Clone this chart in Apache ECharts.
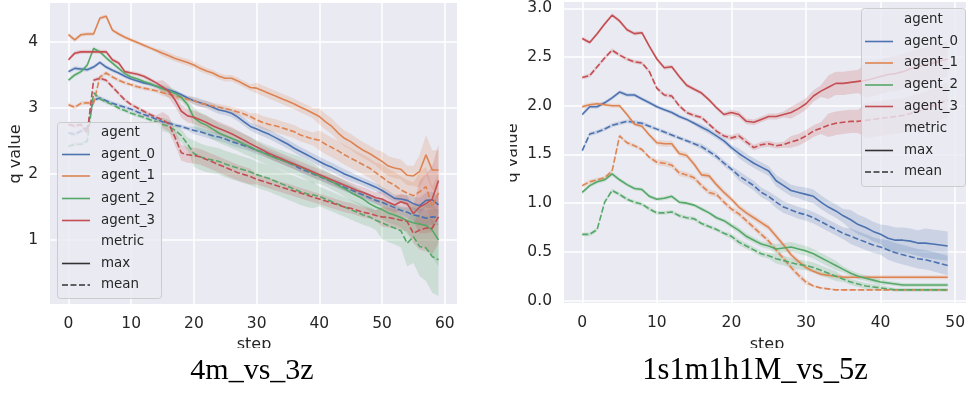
<!DOCTYPE html>
<html><head><meta charset="utf-8">
<script src="https://cdn.jsdelivr.net/npm/echarts@6/dist/echarts.min.js"></script>
<style>html,body{margin:0;padding:0;background:#fff;}#c{width:968px;height:394px;}</style>
</head><body><div id="c"></div>
<script>
// ---------- data ----------
const steps1 = [0,1,2,3,4,5,6,7,8,9,10,11,12,13,14,15,16,17,18,19,20,21,22,23,24,25,26,27,28,29,30,31,32,33,34,35,36,37,38,39,40,41,42,43,44,45,46,47,48,49,50,51,52,53,54,55,56,57,58,59];
const steps2 = [0,1,2,3,4,5,6,7,8,9,10,11,12,13,14,15,16,17,18,19,20,21,22,23,24,25,26,27,28,29,30,31,32,33,34,35,36,37,38,39,40,41,42,43,44,45,46,47,48,49];
const agentNames = ['agent_0','agent_1','agent_2','agent_3'];
const metricNames = ['max','mean'];
const captions = ['4m_vs_3z','1s1m1h1M_vs_5z'];
const xTicks1 = [0,10,20,30,40,50,60];
const yTicks1 = [1,2,3,4];
const xTicks2 = [0,10,20,30,40,50];
const yTicks2 = [0.0,0.5,1.0,1.5,2.0,2.5,3.0];

// plot 1 (4m_vs_3z)
const p1_a0_max = [3.55,3.60,3.59,3.58,3.62,3.69,3.62,3.57,3.53,3.48,3.44,3.41,3.38,3.36,3.33,3.30,3.27,3.24,3.20,3.15,3.11,3.08,3.05,3.01,2.97,2.95,2.92,2.86,2.79,2.72,2.68,2.64,2.60,2.55,2.50,2.45,2.39,2.34,2.29,2.24,2.19,2.14,2.10,2.05,2.00,1.96,1.92,1.88,1.84,1.80,1.75,1.69,1.63,1.62,1.60,1.55,1.52,1.60,1.61,1.53];
const p1_a0_mean = [2.62,2.60,2.65,2.70,3.12,3.15,3.11,3.07,3.04,3.01,2.98,2.94,2.90,2.87,2.83,2.79,2.77,2.74,2.72,2.69,2.66,2.64,2.61,2.58,2.56,2.53,2.49,2.46,2.43,2.40,2.36,2.33,2.29,2.25,2.21,2.17,2.13,2.08,2.04,2.00,1.96,1.92,1.88,1.84,1.80,1.76,1.72,1.68,1.64,1.60,1.57,1.53,1.49,1.45,1.42,1.38,1.36,1.33,1.35,1.34];
const p1_a1_max = [4.11,4.03,4.11,4.12,4.12,4.36,4.39,4.18,4.12,4.07,4.03,3.99,3.95,3.91,3.87,3.83,3.79,3.75,3.72,3.69,3.65,3.60,3.56,3.53,3.48,3.45,3.45,3.41,3.36,3.31,3.30,3.26,3.22,3.18,3.14,3.10,3.06,3.01,2.97,2.92,2.87,2.79,2.72,2.62,2.54,2.49,2.42,2.36,2.31,2.25,2.19,2.12,2.09,2.07,1.98,1.97,2.04,2.29,2.06,2.06];
const p1_a1_mean = [3.05,3.01,3.07,3.08,3.07,3.47,3.53,3.47,3.42,3.38,3.35,3.32,3.30,3.28,3.26,3.23,3.21,3.18,3.16,3.13,3.11,3.07,3.05,3.03,3.01,2.99,2.97,2.94,2.91,2.87,2.82,2.78,2.75,2.73,2.70,2.67,2.64,2.59,2.56,2.53,2.51,2.45,2.40,2.35,2.29,2.24,2.19,2.14,2.09,2.02,1.95,1.88,1.83,1.76,1.71,1.67,1.73,1.81,1.51,1.71];
const p1_a2_max = [3.42,3.50,3.55,3.65,3.90,3.85,3.76,3.68,3.60,3.52,3.47,3.44,3.40,3.37,3.33,3.29,3.26,3.22,3.16,3.05,2.85,2.78,2.74,2.68,2.62,2.58,2.54,2.50,2.45,2.41,2.36,2.32,2.28,2.24,2.21,2.17,2.14,2.11,2.06,2.01,1.97,1.93,1.88,1.83,1.78,1.72,1.67,1.62,1.55,1.50,1.46,1.41,1.38,1.34,1.29,1.26,1.24,1.22,1.15,1.00];
const p1_a2_mean = [2.42,2.45,2.45,2.50,3.23,3.14,3.09,3.05,3.00,2.96,2.92,2.89,2.86,2.82,2.79,2.75,2.72,2.66,2.58,2.45,2.31,2.26,2.23,2.21,2.19,2.15,2.12,2.09,2.06,2.03,1.99,1.96,1.93,1.89,1.85,1.81,1.77,1.73,1.70,1.68,1.66,1.62,1.58,1.54,1.50,1.46,1.42,1.38,1.35,1.30,1.26,1.22,1.18,1.14,0.95,1.05,0.90,0.88,0.75,0.70];
const p1_a3_max = [3.73,3.83,3.85,3.85,3.85,3.85,3.85,3.73,3.68,3.55,3.53,3.51,3.48,3.43,3.38,3.32,3.25,3.12,2.95,2.88,2.86,2.82,2.78,2.73,2.69,2.65,2.61,2.56,2.51,2.46,2.41,2.36,2.31,2.27,2.23,2.19,2.15,2.11,2.07,2.03,1.99,1.95,1.91,1.87,1.83,1.79,1.75,1.72,1.68,1.64,1.62,1.57,1.53,1.58,1.55,1.40,1.50,1.55,1.62,1.90];
const p1_a3_mean = [2.75,2.73,2.75,2.62,3.42,3.45,3.42,3.32,3.22,3.12,3.05,3.00,2.95,2.90,2.86,2.82,2.76,2.55,2.32,2.29,2.28,2.26,2.22,2.18,2.14,2.10,2.06,2.02,1.99,1.96,1.92,1.89,1.86,1.83,1.80,1.77,1.74,1.71,1.68,1.65,1.62,1.59,1.56,1.53,1.50,1.48,1.45,1.42,1.40,1.37,1.35,1.34,1.32,1.30,1.28,1.10,1.15,1.18,1.18,1.35];
// confidence half-widths, plot 1
const p1_a0_max_ci = [.03,.03,.03,.03,.03,.03,.03,.03,.03,.03,.03,.03,.03,.03,.03,.03,.03,.03,.03,.03,.06,.06,.06,.06,.06,.06,.06,.06,.06,.06,.07,.07,.07,.07,.07,.07,.07,.07,.07,.07,.07,.07,.07,.07,.07,.07,.06,.06,.06,.06,.06,.06,.06,.06,.08,.1,.12,.12,.12,.12];
const p1_a0_mean_ci = [.03,.03,.03,.03,.03,.03,.03,.03,.03,.03,.03,.03,.03,.03,.03,.03,.03,.03,.03,.03,.06,.06,.06,.06,.06,.06,.06,.06,.06,.06,.06,.06,.06,.06,.06,.06,.06,.06,.06,.06,.06,.06,.06,.06,.06,.06,.06,.06,.06,.06,.06,.06,.06,.06,.08,.1,.12,.12,.12,.12];
const p1_a1_max_ci = [.03,.03,.03,.03,.03,.03,.03,.03,.03,.03,.03,.03,.03,.03,.03,.05,.05,.05,.05,.05,.05,.05,.05,.05,.05,.05,.05,.05,.05,.05,.08,.08,.08,.08,.08,.08,.08,.08,.08,.08,.12,.12,.12,.12,.12,.12,.12,.12,.12,.12,.15,.15,.15,.15,.15,.15,.25,.3,.3,.3];
const p1_a1_mean_ci = [.03,.03,.03,.03,.03,.03,.03,.03,.03,.03,.03,.03,.03,.03,.03,.05,.05,.05,.05,.05,.05,.05,.05,.05,.05,.05,.05,.05,.05,.05,.1,.1,.1,.1,.1,.1,.1,.1,.1,.1,.15,.15,.15,.15,.15,.15,.15,.15,.15,.15,.2,.2,.2,.2,.2,.2,.3,.3,.3,.3];
const p1_a2_max_ci = [.03,.03,.03,.03,.03,.03,.03,.03,.03,.03,.03,.03,.03,.03,.03,.06,.06,.06,.06,.06,.15,.15,.15,.15,.15,.15,.15,.15,.15,.15,.15,.15,.15,.15,.15,.15,.15,.15,.15,.15,.12,.12,.12,.12,.12,.12,.12,.12,.12,.12,.15,.15,.15,.15,.2,.25,.3,.35,.4,.4];
const p1_a2_mean_ci = [.03,.03,.03,.03,.03,.03,.03,.03,.03,.03,.03,.03,.03,.03,.03,.1,.1,.1,.1,.1,.2,.2,.2,.2,.2,.2,.2,.2,.2,.2,.2,.2,.2,.2,.2,.2,.2,.2,.2,.2,.15,.15,.15,.15,.15,.15,.15,.15,.15,.15,.25,.25,.25,.25,.35,.4,.45,.5,.55,.55];
const p1_a3_max_ci = [.03,.03,.03,.03,.03,.03,.03,.03,.03,.03,.03,.03,.03,.03,.03,.1,.1,.1,.1,.1,.1,.1,.1,.1,.1,.1,.1,.1,.1,.1,.08,.08,.08,.08,.08,.08,.08,.08,.08,.08,.08,.08,.08,.08,.08,.08,.08,.08,.08,.08,.12,.12,.12,.12,.12,.12,.4,.45,.5,.55];
const p1_a3_mean_ci = [.03,.03,.03,.03,.03,.03,.03,.03,.03,.03,.03,.03,.03,.03,.03,.12,.12,.12,.12,.12,.12,.12,.12,.12,.12,.12,.12,.12,.12,.12,.08,.08,.08,.08,.08,.08,.08,.08,.08,.08,.08,.08,.08,.08,.08,.08,.08,.08,.08,.08,.15,.15,.15,.15,.15,.15,.3,.35,.4,.4];

// plot 2 (1s1m1h1M_vs_5z)
const p2_a0_max = [1.91,1.99,1.99,2.03,2.08,2.14,2.11,2.11,2.07,2.03,1.99,1.96,1.93,1.89,1.86,1.82,1.78,1.74,1.69,1.64,1.57,1.51,1.46,1.41,1.37,1.33,1.23,1.18,1.13,1.11,1.09,1.07,1.01,0.96,0.92,0.87,0.83,0.78,0.75,0.71,0.68,0.64,0.62,0.62,0.61,0.59,0.59,0.58,0.57,0.56];
const p2_a0_mean = [1.54,1.71,1.73,1.76,1.80,1.82,1.84,1.83,1.82,1.79,1.76,1.73,1.70,1.67,1.64,1.61,1.58,1.53,1.48,1.41,1.35,1.28,1.23,1.18,1.11,1.07,1.01,0.96,0.93,0.90,0.88,0.85,0.81,0.77,0.73,0.69,0.66,0.63,0.60,0.57,0.55,0.52,0.49,0.47,0.45,0.43,0.42,0.40,0.38,0.36];
const p2_a1_max = [1.99,2.01,2.02,2.01,2.00,2.00,1.91,1.81,1.79,1.70,1.62,1.61,1.61,1.51,1.49,1.40,1.29,1.28,1.19,1.11,1.04,0.96,0.90,0.85,0.80,0.75,0.66,0.57,0.47,0.40,0.34,0.30,0.27,0.26,0.25,0.24,0.24,0.24,0.24,0.24,0.24,0.24,0.24,0.24,0.24,0.24,0.24,0.24,0.24,0.24];
const p2_a1_mean = [1.18,1.22,1.24,1.26,1.33,1.69,1.62,1.59,1.55,1.47,1.42,1.41,1.39,1.31,1.29,1.26,1.18,1.11,1.09,1.01,0.94,0.89,0.82,0.75,0.68,0.61,0.52,0.43,0.34,0.26,0.19,0.15,0.13,0.12,0.11,0.11,0.11,0.11,0.11,0.11,0.11,0.11,0.11,0.11,0.11,0.11,0.11,0.11,0.11,0.11];
const p2_a2_max = [1.11,1.18,1.22,1.24,1.30,1.24,1.19,1.15,1.14,1.07,1.04,1.05,1.07,1.01,1.00,0.98,0.94,0.90,0.85,0.82,0.77,0.72,0.66,0.62,0.58,0.56,0.53,0.54,0.55,0.53,0.51,0.48,0.44,0.40,0.36,0.32,0.28,0.25,0.23,0.21,0.19,0.18,0.17,0.16,0.16,0.16,0.16,0.16,0.16,0.16];
const p2_a2_mean = [0.68,0.68,0.73,1.01,1.13,1.09,1.04,1.01,0.99,0.94,0.90,0.90,0.91,0.87,0.85,0.84,0.79,0.76,0.73,0.69,0.66,0.60,0.56,0.52,0.48,0.46,0.43,0.41,0.39,0.37,0.36,0.34,0.31,0.28,0.25,0.22,0.19,0.17,0.15,0.14,0.13,0.12,0.11,0.11,0.11,0.11,0.11,0.11,0.11,0.11];
const p2_a3_max = [2.69,2.65,2.74,2.84,2.93,2.87,2.78,2.74,2.75,2.61,2.48,2.39,2.40,2.30,2.21,2.17,2.13,2.06,1.98,1.91,1.93,1.91,1.84,1.83,1.86,1.89,1.89,1.91,1.93,1.97,2.02,2.10,2.15,2.19,2.23,2.23,2.24,2.25,2.26,2.28,2.30,2.32,2.33,2.35,2.38,2.40,2.42,2.44,2.46,2.48];
const p2_a3_mean = [2.29,2.31,2.40,2.49,2.57,2.52,2.48,2.45,2.44,2.35,2.18,2.11,2.10,2.00,1.93,1.90,1.88,1.81,1.74,1.69,1.67,1.69,1.63,1.57,1.60,1.61,1.59,1.60,1.63,1.65,1.69,1.74,1.77,1.80,1.82,1.83,1.84,1.84,1.85,1.86,1.87,1.88,1.89,1.90,1.92,1.94,1.97,2.00,2.03,2.06];
// confidence half-widths, plot 2
const p2_a0_max_ci = [.02,.02,.02,.02,.02,.02,.02,.02,.02,.02,.02,.02,.02,.02,.02,.02,.03,.03,.03,.03,.03,.05,.05,.05,.05,.05,.06,.06,.06,.06,.07,.07,.07,.07,.07,.07,.1,.1,.1,.1,.1,.13,.13,.13,.13,.13,.15,.15,.15,.15];
const p2_a0_mean_ci = [.02,.02,.02,.02,.02,.02,.02,.02,.02,.02,.02,.02,.02,.02,.02,.02,.03,.03,.03,.03,.03,.05,.05,.05,.05,.05,.06,.06,.06,.06,.06,.06,.06,.06,.06,.06,.08,.08,.08,.08,.08,.1,.1,.1,.1,.1,.1,.1,.1,.1];
const p2_a1_max_ci = [.02,.02,.02,.02,.02,.02,.02,.02,.02,.02,.03,.03,.03,.03,.03,.03,.03,.03,.03,.03,.03,.03,.03,.03,.03,.03,.03,.03,.03,.03,.03,.02,.02,.02,.02,.02,.02,.02,.02,.02,.02,.02,.02,.02,.02,.02,.02,.02,.02,.02];
const p2_a1_mean_ci = [.02,.02,.02,.02,.02,.02,.02,.02,.02,.02,.03,.03,.03,.03,.03,.03,.03,.03,.03,.03,.03,.03,.03,.03,.03,.03,.03,.03,.03,.03,.03,.01,.01,.01,.01,.01,.01,.01,.01,.01,.01,.01,.01,.01,.01,.01,.01,.01,.01,.01];
const p2_a2_max_ci = [.02,.02,.02,.02,.02,.02,.02,.02,.02,.02,.02,.02,.02,.02,.02,.02,.02,.02,.02,.02,.03,.03,.03,.03,.03,.03,.05,.05,.05,.05,.05,.05,.05,.05,.05,.03,.03,.03,.03,.03,.03,.02,.02,.02,.02,.02,.02,.02,.02,.02];
const p2_a2_mean_ci = [.02,.02,.02,.02,.02,.02,.02,.02,.02,.02,.02,.02,.02,.02,.02,.02,.02,.02,.02,.02,.03,.03,.03,.03,.03,.03,.05,.05,.05,.05,.05,.05,.05,.05,.05,.03,.03,.03,.03,.03,.03,.02,.02,.02,.02,.02,.02,.02,.02,.02];
const p2_a3_max_ci = [.02,.02,.02,.02,.02,.02,.02,.02,.02,.02,.02,.02,.02,.02,.02,.02,.02,.02,.02,.02,.03,.03,.03,.03,.03,.03,.03,.03,.06,.06,.06,.06,.06,.12,.12,.12,.12,.12,.18,.18,.18,.18,.18,.18,.18,.18,.18,.18,.18,.18];
const p2_a3_mean_ci = [.02,.02,.02,.02,.02,.02,.02,.02,.02,.02,.02,.02,.02,.02,.02,.02,.02,.02,.02,.02,.03,.03,.03,.03,.03,.03,.03,.03,.06,.06,.06,.06,.06,.12,.12,.12,.12,.12,.18,.18,.18,.18,.18,.18,.18,.18,.18,.18,.18,.18];

// ---------- chart ----------
const COLORS = ['#4C72B0','#DD8452','#55A868','#C44E52'];
const BAND_FILL = ['rgba(76,114,176,0.2)','rgba(221,132,82,0.2)','rgba(85,168,104,0.2)','rgba(196,78,82,0.2)'];
const DASH = [6, 2.5];
const FONT = 'DejaVu Sans';
const TXT = '#262626';

const plots = [
  {steps: steps1, xr: [-2.95, 61.95], yr: [0.03, 4.59], xt: xTicks1, yt: yTicks1, yfmt: v => String(v),
   lines: [[p1_a0_max,p1_a0_max_ci,p1_a0_mean,p1_a0_mean_ci],[p1_a1_max,p1_a1_max_ci,p1_a1_mean,p1_a1_mean_ci],
           [p1_a2_max,p1_a2_max_ci,p1_a2_mean,p1_a2_mean_ci],[p1_a3_max,p1_a3_max_ci,p1_a3_mean,p1_a3_mean_ci]]},
  {steps: steps2, xr: [-2.45, 51.45], yr: [-0.025, 3.065], xt: xTicks2, yt: yTicks2, yfmt: v => v.toFixed(1),
   lines: [[p2_a0_max,p2_a0_max_ci,p2_a0_mean,p2_a0_mean_ci],[p2_a1_max,p2_a1_max_ci,p2_a1_mean,p2_a1_mean_ci],
           [p2_a2_max,p2_a2_max_ci,p2_a2_mean,p2_a2_mean_ci],[p2_a3_max,p2_a3_max_ci,p2_a3_mean,p2_a3_mean_ci]]}
];
const gridBoxes = [{left: 50, top: 3, width: 407, height: 301}, {left: 564, top: 2, width: 406, height: 301}];

function inList(list, v) { return list.some(t => Math.abs(t - v) < 1e-6); }

const grids = [], xAxes = [], yAxes = [], series = [];
plots.forEach((p, pi) => {
  grids.push(Object.assign({show: true, backgroundColor: '#EAEAF2', borderWidth: 0, containLabel: false}, gridBoxes[pi]));
  xAxes.push({type: 'value', gridIndex: pi, min: p.xr[0], max: p.xr[1], splitNumber: 6,
    axisLine: {show: false}, axisTick: {show: false},
    axisLabel: {color: TXT, fontFamily: FONT, fontSize: 15.5, margin: 12, showMinLabel: false, showMaxLabel: false,
      formatter: v => inList(p.xt, v) ? String(Math.round(v)) : ''},
    splitLine: {show: true, showMinLine: false, showMaxLine: false, lineStyle: {color: '#ffffff', width: 1.5}}});
  yAxes.push({type: 'value', gridIndex: pi, min: p.yr[0], max: p.yr[1], splitNumber: 5,
    axisLine: {show: false}, axisTick: {show: false},
    axisLabel: {color: TXT, fontFamily: FONT, fontSize: 15.5, margin: 12, showMinLabel: false, showMaxLabel: false,
      formatter: v => inList(p.yt, v) ? p.yfmt(v) : ''},
    splitLine: {show: true, showMinLine: false, showMaxLine: false, lineStyle: {color: '#ffffff', width: 1.5}}});
  // confidence bands (custom polygons through the axis scales)
  p.lines.forEach((ln, ai) => {
    metricNames.forEach((m, mi) => {
      const vals = ln[mi * 2], ci = ln[mi * 2 + 1];
      const rows = p.steps.map((s, i) => [s, vals[i] - ci[i], vals[i] + ci[i]]);
      series.push({type: 'custom', xAxisIndex: pi, yAxisIndex: pi, silent: true, z: 1, clip: true,
        encode: {x: 0, y: [1, 2]}, data: rows,
        renderItem: (params, api) => {
          if (params.dataIndex !== 0) return null;
          const lower = rows.map(r => api.coord([r[0], r[1]]));
          const upper = rows.map(r => api.coord([r[0], r[2]])).reverse();
          return {type: 'polygon', shape: {points: lower.concat(upper)}, style: {fill: BAND_FILL[ai], stroke: null}};
        }});
    });
  });
  // lines
  p.lines.forEach((ln, ai) => {
    metricNames.forEach((m, mi) => {
      const vals = ln[mi * 2];
      series.push({type: 'line', name: agentNames[ai] + ' ' + m, xAxisIndex: pi, yAxisIndex: pi, symbol: 'none', z: 3,
        lineStyle: {color: COLORS[ai], width: 1.6, type: mi === 0 ? 'solid' : DASH},
        data: p.steps.map((s, i) => [s, vals[i]])});
    });
  });
});

// legend + texts via graphic
function legendGraphic(x0, y0, w, h, handleX, textX, rowY) {
  const els = [];
  els.push({type: 'rect', left: x0, top: y0, z: 100, shape: {width: w, height: h, r: 3},
    style: {fill: 'rgba(234,234,242,0.8)', stroke: '#cccccc', lineWidth: 1}});
  const labels = ['agent', 'agent_0', 'agent_1', 'agent_2', 'agent_3', 'metric', 'max', 'mean'];
  const handles = [null, {c: COLORS[0]}, {c: COLORS[1]}, {c: COLORS[2]}, {c: COLORS[3]}, null, {c: '#333333'}, {c: '#333333', d: DASH}];
  labels.forEach((lab, i) => {
    const y = rowY[i];
    if (handles[i]) {
      els.push({type: 'line', z: 101, shape: {x1: handleX, y1: y, x2: handleX + 28, y2: y},
        style: {stroke: handles[i].c, lineWidth: 1.6, lineDash: handles[i].d || null}});
    }
    els.push({type: 'text', z: 101, x: textX, y: y,
      style: {text: lab, fill: TXT, font: '13.4px "DejaVu Sans"', textAlign: 'left', textVerticalAlign: 'middle'}});
  });
  return els;
}
const rows1 = [133, 154.5, 176, 198.5, 220.5, 242, 263.5, 285];
const rows2 = [20, 41.5, 63, 85, 106.5, 128.5, 150.5, 172];

const graphics = [].concat(
  legendGraphic(57, 122, 104, 176, 62, 101, rows1),
  legendGraphic(861, 8, 104, 178, 865, 904, rows2),
  [
    {type: 'text', z: 50, x: 16, y: 154, rotation: Math.PI / 2,
      style: {text: 'q value', fill: TXT, font: '16px "DejaVu Sans"', textAlign: 'center', textVerticalAlign: 'middle'}},
    {type: 'text', z: 50, x: 513, y: 153, rotation: Math.PI / 2,
      style: {text: 'q value', fill: TXT, font: '16px "DejaVu Sans"', textAlign: 'center', textVerticalAlign: 'middle'}},
    {type: 'rect', z: 60, left: 458, top: 0, shape: {width: 52, height: 394}, style: {fill: '#ffffff'}},
    {type: 'text', z: 50, x: 254, y: 345, style: {text: 'step', fill: TXT, font: '16px "DejaVu Sans"', textAlign: 'center', textVerticalAlign: 'middle'}},
    {type: 'text', z: 50, x: 767, y: 345, style: {text: 'step', fill: TXT, font: '16px "DejaVu Sans"', textAlign: 'center', textVerticalAlign: 'middle'}},
    {type: 'rect', z: 200, left: 0, top: 348, shape: {width: 968, height: 46}, style: {fill: '#ffffff'}},
    {type: 'text', z: 300, x: 252, y: 371, style: {text: captions[0], fill: '#000000', font: '30px "Liberation Serif"', textAlign: 'center', textVerticalAlign: 'middle'}},
    {type: 'text', z: 300, x: 755, y: 371, style: {text: captions[1], fill: '#000000', font: '30.5px "Liberation Serif"', textAlign: 'center', textVerticalAlign: 'middle'}}
  ]
);

const chart = echarts.init(document.getElementById('c'), null, {renderer: 'canvas'});
chart.setOption({
  animation: false,
  backgroundColor: '#ffffff',
  grid: grids, xAxis: xAxes, yAxis: yAxes, series: series,
  graphic: {elements: graphics}
});
</script></body></html>
